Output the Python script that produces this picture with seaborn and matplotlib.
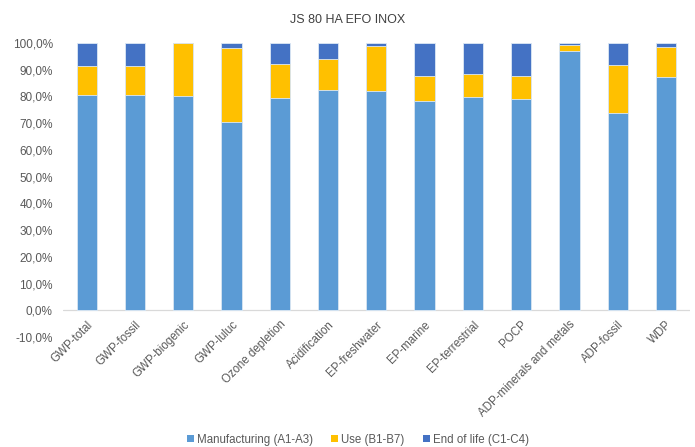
import matplotlib
matplotlib.use("Agg")
import matplotlib.pyplot as plt
import seaborn as sns
import numpy as np
import pandas as pd
from matplotlib.ticker import FuncFormatter, MultipleLocator
from matplotlib.patches import Patch

categories = ["GWP-total", "GWP-fossil", "GWP-biogenic", "GWP-luluc", "Ozone depletion",
              "Acidification", "EP-freshwater", "EP-marine", "EP-terrestrial", "POCP",
              "ADP-minerals and metals", "ADP-fossil", "WDP"]
manufacturing = [80.5, 80.5, 80.1, 70.4, 79.4, 82.4, 82.0, 78.3, 79.8, 79.0, 97.0, 73.8, 87.3]
use = [10.9, 10.7, 19.9, 27.7, 12.7, 11.6, 16.9, 9.3, 8.6, 8.6, 2.3, 18.0, 11.2]
end_of_life = [8.6, 8.8, 0.0, 1.9, 7.9, 6.0, 1.1, 12.4, 11.6, 12.4, 0.7, 8.2, 1.5]
series_names = ["Manufacturing (A1-A3)", "Use (B1-B7)", "End of life (C1-C4)"]
colors = ["#5B9BD5", "#FFC000", "#4472C4"]

sns.set_theme(style="white")
plt.rcParams['font.family'] = ['Liberation Sans', 'DejaVu Sans']

df = pd.DataFrame({"cat": categories,
                   "m": manufacturing, "u": use, "e": end_of_life})
df["mu"] = df["m"] + df["u"]
df["mue"] = df["mu"] + df["e"]

fig = plt.figure(figsize=(6.95, 4.47), dpi=100)
ax = fig.add_axes([0.09, 0.246, 0.903, 0.658])

w = 0.42
for col, c in zip(["mue", "mu", "m"], [colors[2], colors[1], colors[0]]):
    sns.barplot(data=df, x="cat", y=col, color=c, width=w, ax=ax,
                saturation=1, edgecolor="#dce8f5", linewidth=0.6)

ax.set_ylim(-10, 100)
ax.set_xlim(-0.5, len(categories) - 0.5)
ax.yaxis.set_major_locator(MultipleLocator(10))
ax.yaxis.set_major_formatter(FuncFormatter(lambda v, p: f"{v:.1f}%".replace(".", ",")))
ax.set_xlabel("")
ax.set_ylabel("")
ax.spines['bottom'].set_position(('data', 0))
for s in ax.spines.values():
    s.set_visible(False)
ax.axhline(0, color="#d9d9d9", lw=0.9, zorder=0.5)
ax.tick_params(axis="y", labelsize=8.5, colors="#595959", length=0, pad=7)
ax.tick_params(axis="x", labelsize=8.3, colors="#595959", length=0, pad=6)
plt.setp(ax.get_xticklabels(), rotation=45, ha="right", rotation_mode="anchor")

fig.text(0.5, 0.955, "JS 80 HA EFO INOX", ha="center", va="center", fontsize=9, color="#404040")

handles = [Patch(facecolor=c, edgecolor="none") for c in colors]
fig.legend(handles, series_names, loc="center", bbox_to_anchor=(0.515, 0.016), ncol=3,
           frameon=False, fontsize=8.3, handlelength=0.6, handleheight=0.6,
           handletextpad=0.25, columnspacing=1.6, labelcolor="#595959")

fig.savefig("out.png", dpi=100)
